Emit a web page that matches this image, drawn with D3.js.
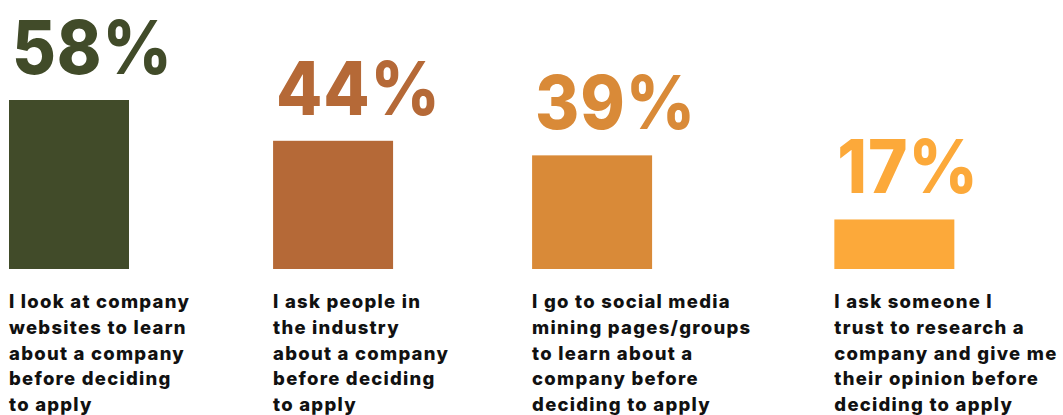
<!DOCTYPE html>
<html>
<head>
<meta charset="utf-8">
<script src="https://cdn.jsdelivr.net/npm/d3@7"></script>
<style>
  html, body { margin: 0; padding: 0; background: #ffffff; }
  svg { display: block; }
</style>
</head>
<body>
<svg id="chart" width="1063" height="415"></svg>
<script>
// Survey answers: how job seekers research a company before applying
const categories = ["website", "industry", "social", "trusted"];
const shares = [58, 44, 39, 17];
const valueLabels = ["58%", "44%", "39%", "17%"];
const descriptions = [
  ["I look at company", "websites to learn", "about a company", "before deciding", "to apply"],
  ["I ask people in", "the industry", "about a company", "before deciding", "to apply"],
  ["I go to social media", "mining pages/groups", "to learn about a", "company before", "deciding to apply"],
  ["I ask someone I", "trust to research a", "company and give me", "their opinion before", "deciding to apply"]
];
const palette = ["#414B29", "#B56937", "#D98A38", "#FCA93A"];

const svg = d3.select("#chart");
const fontFamily = "Inter, 'Open Sans', sans-serif";
const labelSize = 18.5;
const labelWeight = 800;
const labelTracking = 1.25;
const lineHeight = 25.8;
const barWidth = 120;
const columnGap = 83;
const leftEdge = 9;
const baseY = 269;
const topY = 100;

// Measure each description block so columns sit side by side like a flex row
const measure = svg.append("text")
  .attr("font-family", fontFamily)
  .attr("font-weight", labelWeight)
  .attr("font-size", labelSize)
  .attr("letter-spacing", labelTracking);
const columnWidths = descriptions.map(lines =>
  d3.max(lines, l => { measure.text(l); return measure.node().getComputedTextLength(); })
);
measure.remove();

const starts = [];
columnWidths.reduce((acc, w) => { starts.push(acc); return acc + w + columnGap; }, leftEdge);

const x = d3.scaleOrdinal().domain(categories).range(starts);
const y = d3.scaleLinear().domain([0, d3.max(shares)]).range([baseY, topY]);
const color = d3.scaleOrdinal().domain(categories).range(palette);

const rows = categories.map((c, i) => ({ c, v: shares[i], label: valueLabels[i], lines: descriptions[i] }));

const col = svg.selectAll("g.col").data(rows).join("g").attr("class", "col");

col.append("rect")
  .attr("x", d => x(d.c))
  .attr("y", d => y(d.v))
  .attr("width", barWidth)
  .attr("height", d => baseY - y(d.v))
  .attr("fill", d => color(d.c));

// Big value figure, slightly condensed
col.append("text")
  .attr("transform", d => `translate(${x(d.c) + 3},${y(d.v) - 26}) scale(0.91,1)`)
  .attr("font-family", fontFamily)
  .attr("font-weight", 800)
  .attr("font-size", 74)
  .attr("letter-spacing", 1)
  .attr("fill", d => color(d.c))
  .text(d => d.label);

col.append("text")
  .attr("font-family", fontFamily)
  .attr("font-weight", labelWeight)
  .attr("font-size", labelSize)
  .attr("letter-spacing", labelTracking)
  .attr("fill", "#111111")
  .selectAll("tspan")
  .data(d => d.lines.map((t, k) => ({ t, k, x: x(d.c) })))
  .join("tspan")
  .attr("x", t => t.x)
  .attr("y", t => baseY + 39 + t.k * lineHeight)
  .text(t => t.t);
</script>
</body>
</html>
